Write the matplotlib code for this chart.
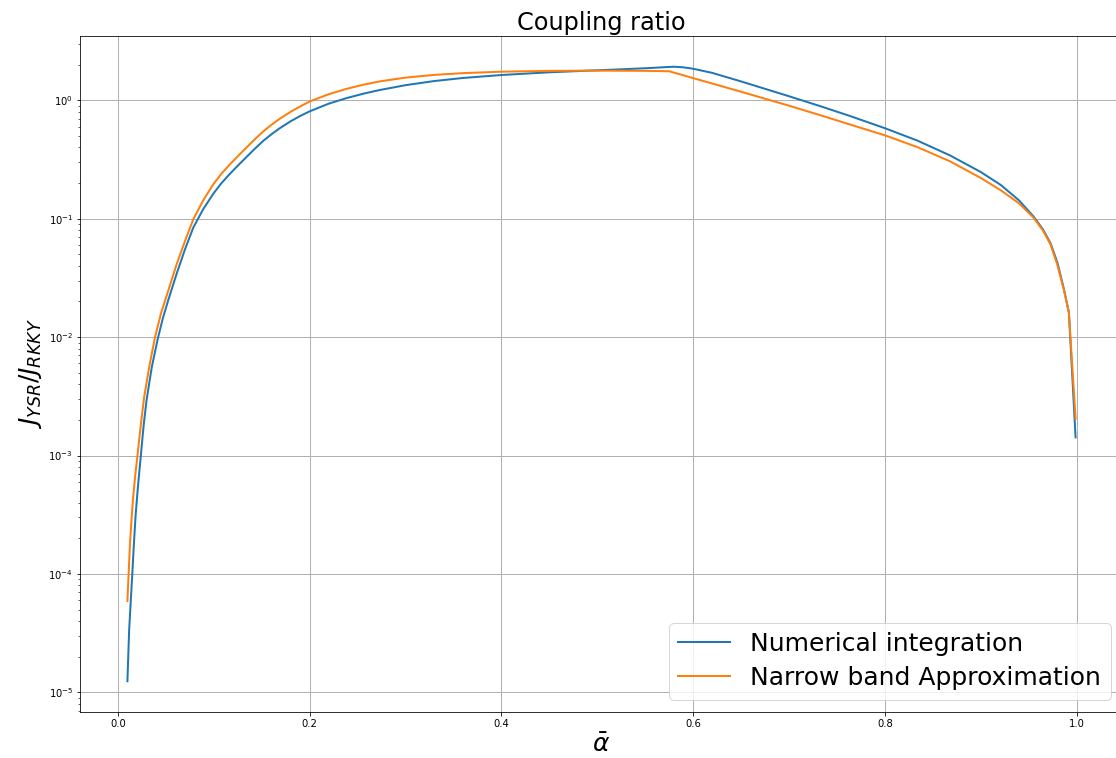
import numpy as np
import matplotlib
matplotlib.use('Agg')
import matplotlib.pyplot as plt


# numerical integration: alpha and log10(J_YSR/J_RKKY)
alpha_num = [0.01, 0.0118, 0.0135, 0.0151, 0.0168, 0.0186, 0.021, 0.024, 0.027, 0.030,
             0.0355, 0.0415, 0.047, 0.0525, 0.0613, 0.07, 0.0787, 0.089, 0.0995, 0.108,
             0.117, 0.125, 0.134, 0.143, 0.152, 0.16, 0.169, 0.18, 0.19, 0.2,
             0.22, 0.239, 0.256, 0.273, 0.3, 0.33, 0.36, 0.4, 0.45, 0.5,
             0.53, 0.555, 0.57, 0.58, 0.59, 0.6, 0.62, 0.65, 0.7, 0.733,
             0.764, 0.8, 0.834, 0.868, 0.9, 0.921, 0.94, 0.955, 0.965, 0.973,
             0.98, 0.987, 0.992, 0.999]
log_num = [-4.907, -4.477, -4.23, -4.00, -3.74, -3.50, -3.26, -3.00, -2.74, -2.53,
           -2.25, -2.02, -1.84, -1.69, -1.466, -1.26, -1.075, -0.92, -0.79, -0.70,
           -0.62, -0.553, -0.48, -0.408, -0.34, -0.288, -0.235, -0.178, -0.133, -0.093,
           -0.028, 0.02, 0.056, 0.087, 0.128, 0.163, 0.189, 0.214, 0.237, 0.254,
           0.264, 0.273, 0.280, 0.284, 0.279, 0.267, 0.232, 0.16, 0.035, -0.05,
           -0.133, -0.235, -0.34, -0.465, -0.605, -0.715, -0.845, -0.98, -1.09, -1.21,
           -1.37, -1.60, -1.793, -2.847]

# narrow band approximation
alpha_nb = [0.01, 0.0125, 0.0142, 0.016, 0.018, 0.0205, 0.024, 0.0274, 0.033, 0.0388,
            0.045, 0.0525, 0.0613, 0.07, 0.0787, 0.089, 0.0995, 0.108, 0.117, 0.125,
            0.134, 0.143, 0.152, 0.16, 0.169, 0.18, 0.19, 0.2, 0.22, 0.239,
            0.256, 0.273, 0.3, 0.33, 0.36, 0.4, 0.45, 0.5, 0.55, 0.575,
            0.6, 0.65, 0.7, 0.733, 0.764, 0.8, 0.834, 0.868, 0.9, 0.921,
            0.94, 0.955, 0.965, 0.973, 0.98, 0.987, 0.992, 0.999]
log_nb = [-4.23, -3.775, -3.55, -3.35, -3.18, -3.0, -2.74, -2.51, -2.24, -2.0,
          -1.80, -1.61, -1.386, -1.19, -1.005, -0.845, -0.71, -0.62, -0.54, -0.473,
          -0.40, -0.328, -0.26, -0.208, -0.155, -0.098, -0.052, -0.01, 0.052, 0.098,
          0.132, 0.160, 0.192, 0.215, 0.230, 0.242, 0.249, 0.251, 0.249, 0.246,
          0.188, 0.073, -0.045, -0.126, -0.205, -0.295, -0.395, -0.515, -0.655, -0.76,
          -0.87, -0.99, -1.10, -1.22, -1.39, -1.61, -1.79, -2.69]

fig = plt.figure(figsize=(1116 / 72, 758 / 72), dpi=72)
ax = fig.add_axes([80 / 1116, 46 / 758, 1043 / 1116, 676 / 758])

ax.plot(alpha_num, 10 ** np.array(log_num), lw=2, label='Numerical integration')
ax.plot(alpha_nb, 10 ** np.array(log_nb), lw=2, label='Narrow band Approximation')
ax.set_yscale('log')
ax.grid(True, which='major', lw=1)

ax.set_title('Coupling ratio', fontsize=24)
ax.set_xlabel(r'$\bar{\alpha}$', fontsize=25)
ax.set_ylabel(r'$J_{YSR}/J_{RKKY}$', fontsize=25)
ax.tick_params(labelsize=10)
ax.legend(loc='lower right', fontsize=25, labelspacing=0.4, borderpad=0.38,
          handlelength=2.08)

fig.savefig('out.png', dpi=72)
